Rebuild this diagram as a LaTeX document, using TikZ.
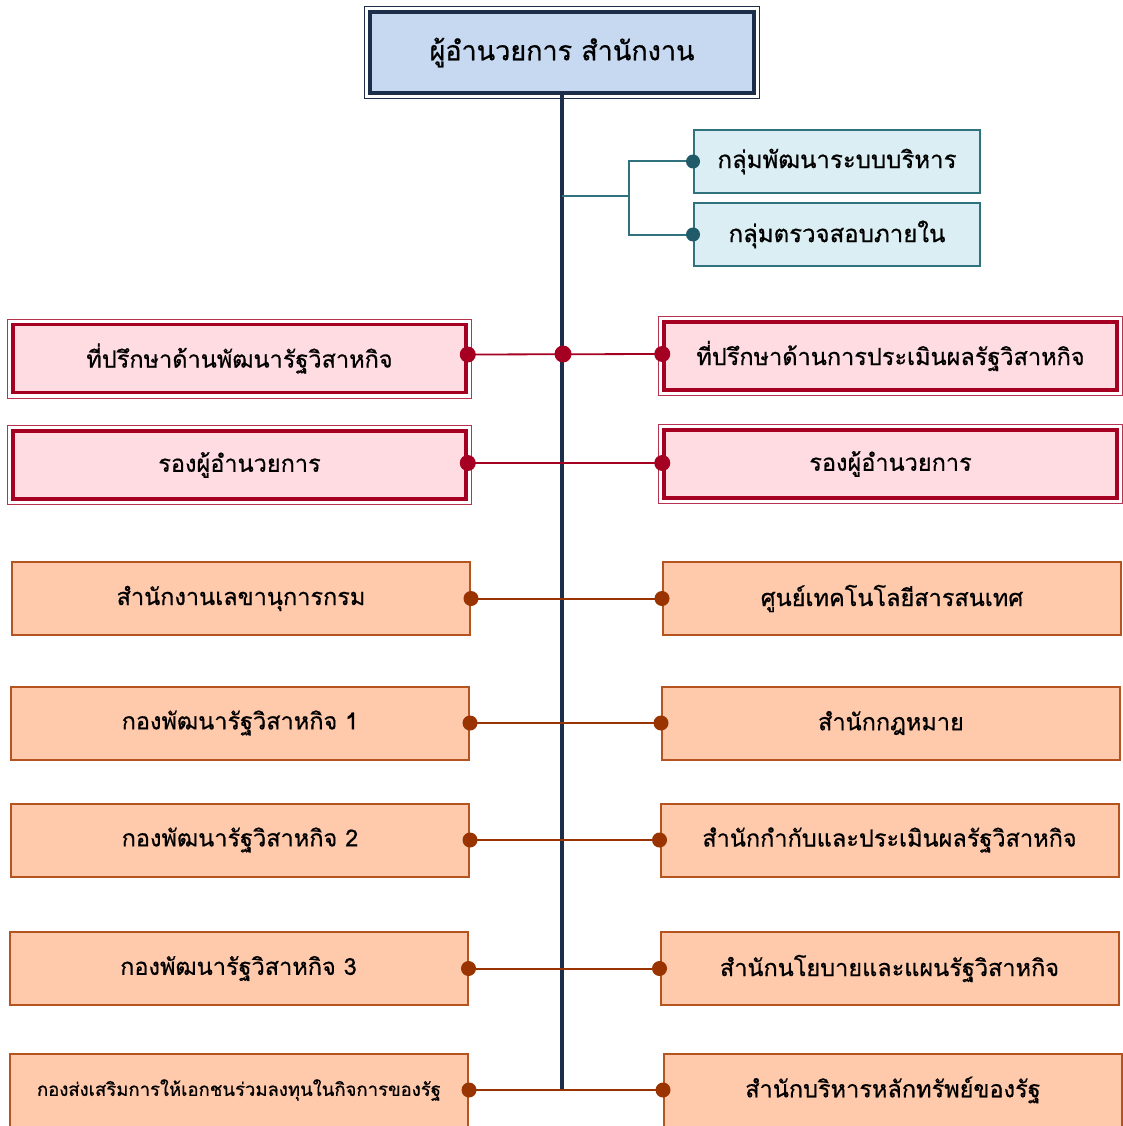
\documentclass[tikz,border=0pt]{standalone}
\usepackage{fontspec}
\newfontfamily\thai[Script=Thai, FakeBold=0.7]{Loma}
\definecolor{navy}{HTML}{1C2E4A}
\definecolor{topf}{HTML}{C6D9F1}
\definecolor{tealf}{HTML}{DAEEF3}
\definecolor{teald}{HTML}{31727F}
\definecolor{tealdot}{HTML}{215A69}
\definecolor{pinkf}{HTML}{FFDCE2}
\definecolor{pinkd}{HTML}{A50021}
\definecolor{orf}{HTML}{FFC9AC}
\definecolor{ord}{HTML}{B5541F}
\definecolor{ordot}{HTML}{993300}
\tikzset{
  txt/.style={font=\thai\fontsize{23.5}{28}\selectfont, text=black, inner sep=0pt},
  topbox/.style={txt, draw=navy, line width=4pt, fill=topf, minimum width=384pt, minimum height=81pt, font=\thai\fontsize{27}{32}\selectfont},
  tealbox/.style={txt, draw=teald, line width=2pt, fill=tealf, minimum width=286pt, minimum height=63pt, font=\thai\fontsize{24}{28}\selectfont},
  pinkbox/.style={txt, draw=pinkd, line width=3.5pt, fill=pinkf, minimum width=453pt, minimum height=68pt},
  orbox/.style={txt, draw=ord, line width=2pt, fill=orf, minimum width=458pt, minimum height=73pt},
  tealline/.style={draw=teald, line width=2pt},
  pinkline/.style={draw=pinkd, line width=1.8pt},
  orline/.style={draw=ordot, line width=2pt},
  tdot/.style={circle, fill=tealdot, inner sep=0pt, minimum size=14pt},
  pdot/.style={circle, fill=pinkd, inner sep=0pt, minimum size=16pt},
  odot/.style={circle, fill=ordot, inner sep=0pt, minimum size=15pt},
}
\begin{document}
\begin{tikzpicture}[x=1pt,y=-1pt]
\useasboundingbox (0,0) rectangle (1123,1126);
% top box
\node[topbox] (top) at (562,52.5) {\raisebox{4pt}{ผู้อำนวยการ สำนักงาน}};
\draw[navy, line width=0.8pt] ([shift={(-3.5pt,3.5pt)}]top.north west) rectangle ([shift={(3.5pt,-3.5pt)}]top.south east);
% teal boxes
\node[tealbox] (g1) at (837,161.5) {กลุ่มพัฒนาระบบบริหาร};
\node[tealbox] (g2) at (837,234.5) {กลุ่มตรวจสอบภายใน};
% pink boxes
\node[pinkbox] (pl1) at (239.5,358.5) {\raisebox{4pt}{ที่ปรึกษาด้านพัฒนารัฐวิสาหกิจ}};
\node[pinkbox] (pr1) at (890.5,356) {\raisebox{2pt}{ที่ปรึกษาด้านการประเมินผลรัฐวิสาหกิจ}};
\node[pinkbox] (pl2) at (239.5,465) {รองผู้อำนวยการ};
\node[pinkbox] (pr2) at (890.5,464) {รองผู้อำนวยการ};
\foreach \n in {pl1,pr1,pl2,pr2}{
  \draw[pinkd!80, line width=0.9pt] ([shift={(-3.8pt,3.8pt)}]\n.north west) rectangle ([shift={(3.8pt,-3.8pt)}]\n.south east);
}
% orange boxes
\node[orbox] (ol1) at (241,598.5) {สำนักงานเลขานุการกรม};
\node[orbox] (or1) at (892,598.5) {ศูนย์เทคโนโลยีสารสนเทศ};
\node[orbox] (ol2) at (240,723) {กองพัฒนารัฐวิสาหกิจ 1};
\node[orbox] (or2) at (891,723) {สำนักกฎหมาย};
\node[orbox] (ol3) at (240,840) {กองพัฒนารัฐวิสาหกิจ 2};
\node[orbox] (or3) at (889.5,840) {สำนักกำกับและประเมินผลรัฐวิสาหกิจ};
\node[orbox] (ol4) at (238.5,968.5) {กองพัฒนารัฐวิสาหกิจ 3};
\node[orbox] (or4) at (889.5,968.5) {สำนักนโยบายและแผนรัฐวิสาหกิจ};
\node[orbox, font=\thai\fontsize{18.5}{22}\selectfont] (ol5) at (239,1090) {กองส่งเสริมการให้เอกชนร่วมลงทุนในกิจการของรัฐ};
\node[orbox] (or5) at (893,1090) {สำนักบริหารหลักทรัพย์ของรัฐ};
% main spine
\coordinate (spineend) at (562,1090);
\draw[navy, line width=4pt] (top.south) -- (spineend);
% teal connectors
\coordinate (tj) at (562,196);
\coordinate (tk) at (629,196);
\draw[tealline] (tj) -- (tk);
\draw[tealline] (g1.west) -| (tk) |- (g2.west);
\node[tdot] at (g1.west) {};
\node[tdot] at (g2.west) {};
% pink connectors
\draw[pinkline] ([yshift=4pt]pl1.east) -- ([yshift=2pt]pr1.west);
\node[pdot] at ([yshift=4pt]pl1.east) {};
\node[pdot] at ([yshift=2pt]pr1.west) {};
\coordinate (pc) at (563,354);
\node[pdot, minimum size=17pt] at (pc) {};
\draw[pinkline] ([yshift=2pt]pl2.east) -- ([yshift=1pt]pr2.west);
\node[pdot] at ([yshift=2pt]pl2.east) {};
\node[pdot] at ([yshift=1pt]pr2.west) {};
% orange connectors
\foreach \i in {1,...,5}{
  \draw[orline] (ol\i.east) -- (or\i.west);
  \node[odot] at (ol\i.east) {};
  \node[odot] at (or\i.west) {};
}
\end{tikzpicture}
\end{document}
